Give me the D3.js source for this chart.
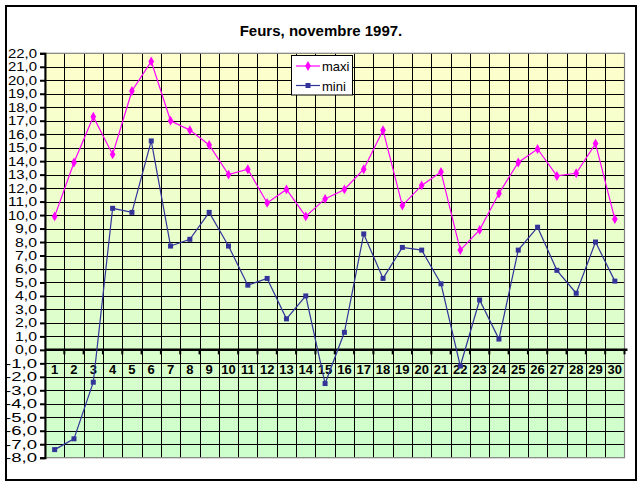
<!DOCTYPE html>
<html>
<head>
<meta charset="utf-8">
<script src="https://cdn.jsdelivr.net/npm/d3@7"></script>
<style>
  html, body { margin: 0; padding: 0; background: #fff; }
  svg { display: block; }
  text { font-family: Arial, "Liberation Sans", sans-serif; }
</style>
</head>
<body>
<svg id="chart" width="642" height="486"></svg>
<script>
const title = "Feurs, novembre 1997.";
const days = ["1","2","3","4","5","6","7","8","9","10","11","12","13","14","15","16","17","18","19","20","21","22","23","24","25","26","27","28","29","30"];
const maxi = [9.9,13.9,17.3,14.5,19.2,21.4,17.0,16.3,15.2,13.0,13.4,10.9,11.9,9.9,11.2,11.9,13.4,16.3,10.7,12.2,13.2,7.4,8.9,11.6,13.9,14.9,12.9,13.1,15.3,9.7];
const mini = [-7.4,-6.6,-2.4,10.5,10.2,15.5,7.7,8.2,10.2,7.7,4.8,5.3,2.3,4.0,-2.5,1.3,8.6,5.3,7.6,7.4,4.9,-1.2,3.7,0.8,7.4,9.1,5.9,4.2,8.0,5.1];
const yTicks = [-8,-7,-6,-5,-4,-3,-2,-1,0,1,2,3,4,5,6,7,8,9,10,11,12,13,14,15,16,17,18,19,20,21,22];
const seriesNames = ["maxi","mini"];
const seriesColors = ["#FF00FF","#333399"];

const svg = d3.select("#chart");
const L = 45, R = 624.5, T = 53.3, B = 457.7;

const x = d3.scaleBand().domain(days).range([L, R]).padding(0);
const y = d3.scaleLinear().domain([-8, 22]).range([B, T]);

// outer frame
svg.append("rect").attr("x", 6).attr("y", 6).attr("width", 630).attr("height", 474)
  .attr("fill", "#fff").attr("stroke", "#000").attr("stroke-width", 2);

// gradient
const defs = svg.append("defs");
const grad = defs.append("linearGradient").attr("id", "bg").attr("x1", 0).attr("y1", 0).attr("x2", 0).attr("y2", 1);
grad.append("stop").attr("offset", "0%").attr("stop-color", "#FFFFCC");
grad.append("stop").attr("offset", "100%").attr("stop-color", "#CCFFCC");

svg.append("rect").attr("x", L).attr("y", T).attr("width", R - L).attr("height", B - T)
  .attr("fill", "url(#bg)");

// grid
const grid = svg.append("g").attr("shape-rendering", "crispEdges");
grid.selectAll("line.h").data(yTicks.filter(v => v > -8 && v < 22)).join("line")
  .attr("x1", L).attr("x2", R).attr("y1", d => Math.round(y(d)) + 0.5).attr("y2", d => Math.round(y(d)) + 0.5)
  .attr("stroke", "#000").attr("stroke-width", 1);
grid.selectAll("line.v").data(days.slice(1)).join("line")
  .attr("x1", d => Math.round(x(d)) + 0.5).attr("x2", d => Math.round(x(d)) + 0.5)
  .attr("y1", T).attr("y2", B)
  .attr("stroke", "#000").attr("stroke-width", 1);

// plot border
svg.append("rect").attr("x", L).attr("y", T).attr("width", R - L).attr("height", B - T)
  .attr("fill", "none").attr("stroke", "#808080").attr("stroke-width", 1.2);

// y axis
const yAxis = d3.axisLeft(y).tickValues(yTicks).tickSize(5).tickPadding(3)
  .tickFormat(d => d.toFixed(1).replace(".", ","));
const ya = svg.append("g").attr("transform", `translate(${L},0)`).call(yAxis);
ya.select(".domain").attr("stroke", "#000").attr("stroke-width", 2);
ya.selectAll(".tick line").attr("stroke", "#000").attr("stroke-width", 2);
ya.selectAll(".tick text").attr("font-size", 12.5).attr("fill", "#000")
  .attr("font-family", "Arial, 'Liberation Sans', sans-serif")
  .attr("textLength", d => d < 0 ? 32 : (Math.abs(d) >= 10 ? 29 : 22))
  .attr("lengthAdjust", "spacingAndGlyphs");

// x axis at 0
const y0 = y(0);
const xa = svg.append("g").attr("transform", `translate(0,${y0})`);
xa.append("line").attr("x1", L).attr("x2", R + 3).attr("y1", 0).attr("y2", 0)
  .attr("stroke", "#000").attr("stroke-width", 2.5);
xa.selectAll("line.tk").data(days.slice(1).concat(["end"])).join("line")
  .attr("x1", d => d === "end" ? R : x(d)).attr("x2", d => d === "end" ? R : x(d))
  .attr("y1", 0).attr("y2", 4.5).attr("stroke", "#000").attr("stroke-width", 2);
xa.selectAll("text").data(days).join("text")
  .attr("x", d => x(d) + x.bandwidth() / 2).attr("y", 24)
  .attr("text-anchor", "middle")
  .attr("font-family", "'Liberation Sans Narrow', 'Arial Narrow', Arial, sans-serif")
  .attr("font-weight", "bold").attr("font-size", 13).attr("fill", "#000")
  .text(d => d);

// series
const cx = (d, i) => x(days[i]) + x.bandwidth() / 2;
const line = d3.line().x((d, i) => cx(d, i)).y(d => y(d));
const allSeries = [maxi, mini];
allSeries.forEach((vals, si) => {
  svg.append("path").datum(vals).attr("d", line)
    .attr("fill", "none").attr("stroke", seriesColors[si]).attr("stroke-width", 1.2);
});
// markers
svg.selectAll("path.mmax").data(maxi).join("path")
  .attr("transform", (d, i) => `translate(${cx(d, i)},${y(d)})`)
  .attr("d", d3.symbol(d3.symbolDiamond, 28)())
  .attr("fill", seriesColors[0]);
svg.selectAll("path.mmin").data(mini).join("path")
  .attr("transform", (d, i) => `translate(${cx(d, i)},${y(d)})`)
  .attr("d", d3.symbol(d3.symbolSquare, 25)())
  .attr("fill", seriesColors[1]);

// title
svg.append("text").attr("x", 321).attr("y", 36).attr("text-anchor", "middle")
  .attr("font-weight", "bold").attr("font-size", 15).attr("fill", "#000").text(title);

// legend
const lg = svg.append("g");
lg.append("rect").attr("x", 291.5).attr("y", 55.5).attr("width", 61).attr("height", 39.5)
  .attr("fill", "#fff").attr("stroke", "#000").attr("stroke-width", 1);
seriesNames.forEach((n, i) => {
  const yy = 66 + i * 19.5;
  lg.append("line").attr("x1", 296).attr("x2", 320).attr("y1", yy).attr("y2", yy)
    .attr("stroke", seriesColors[i]).attr("stroke-width", 1.2);
  lg.append("path").attr("transform", `translate(308,${yy})`)
    .attr("d", d3.symbol(i === 0 ? d3.symbolDiamond : d3.symbolSquare, i === 0 ? 28 : 25)())
    .attr("fill", seriesColors[i]);
  lg.append("text").attr("x", 322).attr("y", yy + 5).attr("font-size", 13).attr("fill", "#000").text(n);
});
</script>
</body>
</html>
